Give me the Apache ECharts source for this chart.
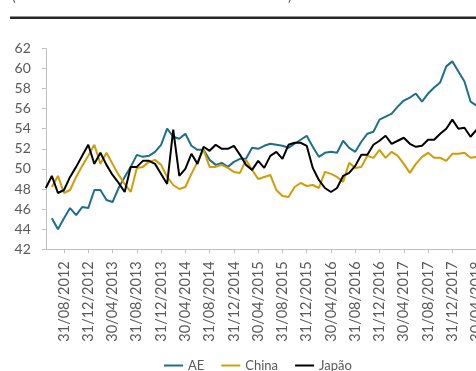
<!DOCTYPE html>
<html>
<head>
<meta charset="utf-8">
<script src="https://cdn.jsdelivr.net/npm/echarts@6/dist/echarts.min.js"></script>
<style>
  html, body { margin: 0; padding: 0; background: #ffffff; }
  #chart { width: 476px; height: 371px; }
</style>
</head>
<body>
<div id="chart"></div>
<script>
// Monthly PMI readings, May 2012 – April 2018 (month-end dates)
const firstYear = 2012, firstMonth = 5, monthCount = 72;

function monthEndLabels(y0, m0, n) {
  const out = [];
  for (let k = 0; k < n; k++) {
    const m = (m0 - 1 + k) % 12 + 1;
    const y = y0 + Math.floor((m0 - 1 + k) / 12);
    const d = new Date(y, m, 0).getDate();
    out.push(String(d).padStart(2, '0') + '/' + String(m).padStart(2, '0') + '/' + y);
  }
  return out;
}
const categories = monthEndLabels(firstYear, firstMonth, monthCount);

const seriesNames = ['AE', 'China', 'Japão'];

const ae = [
  null, 45.1, 44.0, 45.1, 46.1, 45.4, 46.2, 46.1, 47.9, 47.9, 46.9, 46.7,
  48.1, 49.2, 50.2, 51.4, 51.2, 51.3, 51.7, 52.4, 54.0, 53.2, 53.0, 53.5,
  52.3, 51.9, 51.9, 50.9, 50.4, 50.6, 50.2, 50.7, 51.0, 51.0, 52.1, 52.0,
  52.3, 52.5, 52.4, 52.3, 52.1, 52.5, 52.9, 53.3, 52.2, 51.2, 51.6, 51.7,
  51.6, 52.8, 52.1, 51.7, 52.7, 53.5, 53.7, 54.9, 55.2, 55.5, 56.2, 56.8,
  57.1, 57.5, 56.7, 57.5, 58.1, 58.6, 60.2, 60.7, 59.7, 58.7, 56.7, 56.3
];

const china = [
  null, 48.2, 49.3, 47.6, 47.9, 49.2, 50.3, 51.3, 52.4, 50.5, 51.6, 50.5,
  49.4, 48.5, 47.7, 50.1, 50.2, 50.7, 50.9, 50.4, 49.2, 48.4, 48.0, 48.2,
  49.5, 50.7, 51.9, 50.2, 50.2, 50.4, 50.1, 49.7, 49.6, 50.9, 49.9, 49.0,
  49.2, 49.4, 47.9, 47.3, 47.2, 48.2, 48.6, 48.3, 48.4, 48.1, 49.7, 49.5,
  49.2, 48.7, 50.6, 50.1, 50.2, 51.3, 51.1, 51.9, 51.1, 51.7, 51.3, 50.5,
  49.6, 50.5, 51.2, 51.6, 51.1, 51.1, 50.8, 51.5, 51.5, 51.6, 51.1, 51.2
];

const japao = [
  48.1, 49.3, 47.6, 47.9, 49.2, 50.2, 51.3, 52.4, 50.5, 51.6, 50.4, 49.4,
  48.6, 47.7, 50.2, 50.2, 50.8, 50.8, 50.5, 49.5, 48.5, 53.9, 49.3, 50.0,
  51.5, 50.5, 52.2, 51.8, 52.4, 52.0, 52.0, 52.3, 51.4, 50.4, 49.9, 50.8,
  50.1, 51.3, 51.7, 51.0, 52.4, 52.6, 52.6, 52.3, 50.1, 48.9, 48.1, 47.7,
  48.1, 49.3, 49.6, 50.3, 51.4, 51.4, 52.4, 52.8, 53.3, 52.5, 52.8, 53.1,
  52.5, 52.2, 52.3, 52.9, 52.9, 53.5, 54.0, 54.9, 54.0, 54.1, 53.2, 53.9
];

const yTicks = { min: 42, max: 62, step: 2 };

const colors = ['#1d6f8c', '#d29c06', '#000000'];
const labelColor = '#595959';
const axisColor = '#bfbfbf';
const fontFamily = 'Lato, "Noto Sans", sans-serif';

// every fourth month, starting at 31/08/2012
const everyFourth = (index) => (index - 3) % 4 === 0;

const chart = echarts.init(document.getElementById('chart'), null, { renderer: 'canvas' });

chart.setOption({
  animation: false,
  backgroundColor: '#ffffff',
  color: colors,
  textStyle: { fontFamily: fontFamily },
  graphic: [
    { type: 'rect', shape: { x: 10, y: 16.5, width: 470, height: 2.6 }, style: { fill: '#262626' } },
    { type: 'text', x: 12, y: 3, style: { text: '(', font: '14px ' + fontFamily, fill: '#595959', verticalAlign: 'bottom' } },
    { type: 'text', x: 288, y: 3, style: { text: ')', font: '14px ' + fontFamily, fill: '#595959', verticalAlign: 'bottom' } }
  ],
  grid: {
    left: 45.8, right: -0.6, top: 48.3, bottom: 121.7,
    containLabel: false,
    outerBoundsMode: 'none'
  },
  legend: {
    data: seriesNames,
    top: 354,
    left: 159,
    icon: 'rect',
    itemWidth: 19,
    itemHeight: 2,
    itemGap: 17,
    textStyle: { color: '#595959', fontSize: 13, fontFamily: fontFamily }
  },
  xAxis: {
    type: 'category',
    data: categories,
    boundaryGap: false,
    axisLine: { lineStyle: { color: axisColor, width: 1 } },
    axisTick: { show: true, interval: everyFourth, length: 4, lineStyle: { color: axisColor } },
    axisLabel: {
      interval: everyFourth,
      rotate: 90,
      align: 'right',
      verticalAlign: 'middle',
      margin: 12,
      color: labelColor,
      fontSize: 14.5,
      fontFamily: fontFamily
    },
    splitLine: { show: false }
  },
  yAxis: {
    type: 'value',
    min: yTicks.min,
    max: yTicks.max,
    interval: yTicks.step,
    axisLine: { show: true, lineStyle: { color: axisColor, width: 1 } },
    axisTick: { show: true, length: 4, lineStyle: { color: axisColor } },
    axisLabel: { color: labelColor, fontSize: 14, margin: 15, fontFamily: fontFamily },
    splitLine: { show: false }
  },
  series: [
    { name: seriesNames[0], type: 'line', data: ae, symbol: 'none', lineStyle: { width: 2 } },
    { name: seriesNames[1], type: 'line', data: china, symbol: 'none', lineStyle: { width: 2 } },
    { name: seriesNames[2], type: 'line', data: japao, symbol: 'none', lineStyle: { width: 2 } }
  ]
});
</script>
</body>
</html>
